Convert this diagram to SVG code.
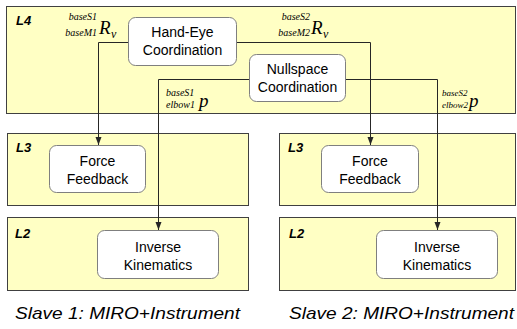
<svg xmlns="http://www.w3.org/2000/svg" width="517" height="329" viewBox="0 0 517 329">
  <style>
    .layer { fill: #ffffc4; stroke: #404040; stroke-width: 1; }
    .node rect { fill: #ffffff; stroke: #7f7f7f; stroke-width: 1; }
    .node text { font-family: "Liberation Sans", Arial, sans-serif; font-size: 14px; fill: #000; text-anchor: middle; }
    .lvl { font-family: "Liberation Sans", Arial, sans-serif; font-size: 13px; font-style: italic; font-weight: bold; fill: #000; }
    .cap { font-family: "Liberation Sans", Arial, sans-serif; font-size: 16.5px; font-style: italic; fill: #000; }
    .sub { font-family: "Liberation Serif", "Times New Roman", serif; font-size: 10px; font-style: italic; fill: #000; }
    .sub2 { font-family: "Liberation Serif", "Times New Roman", serif; font-size: 9px; font-style: italic; fill: #000; }
    .sym { font-family: "Liberation Serif", "Times New Roman", serif; font-size: 19px; font-style: italic; fill: #000; }
    .symv { font-family: "Liberation Serif", "Times New Roman", serif; font-size: 12px; font-style: italic; fill: #000; }
    .wire { fill: none; stroke: #262626; stroke-width: 1; marker-end: url(#tip); }
  </style>
  <defs>
    <marker id="tip" viewBox="0 0 8 8" refX="8" refY="4" markerWidth="8" markerHeight="8" markerUnits="userSpaceOnUse" orient="auto">
      <path d="M0,1 L8,4 L0,7 z" fill="#262626"/>
    </marker>
  </defs>

  <rect width="517" height="329" fill="#ffffff"/>

  <!-- layer bands -->
  <g id="layers">
    <rect class="layer" x="6.5" y="6.5" width="509" height="107"/>
    <rect class="layer" x="7.5" y="133.5" width="241" height="72"/>
    <rect class="layer" x="279.5" y="133.5" width="236" height="72"/>
    <rect class="layer" x="7.5" y="217.5" width="241" height="73"/>
    <rect class="layer" x="279.5" y="217.5" width="236" height="73"/>
    <text class="lvl" x="16" y="25">L4</text>
    <text class="lvl" x="16" y="152">L3</text>
    <text class="lvl" x="288" y="152">L3</text>
    <text class="lvl" x="15" y="238">L2</text>
    <text class="lvl" x="289" y="238">L2</text>
  </g>

  <!-- transform labels -->
  <g id="labels">
    <text class="sub" x="97" y="20" text-anchor="end">baseS1</text>
    <text class="sub" x="97" y="36" text-anchor="end">baseM1</text>
    <text class="sym" x="99" y="34">R</text>
    <text class="symv" x="111" y="38">v</text>

    <text class="sub" x="310" y="20" text-anchor="end">baseS2</text>
    <text class="sub" x="310" y="36" text-anchor="end">baseM2</text>
    <text class="sym" x="311" y="34">R</text>
    <text class="symv" x="323" y="38">v</text>

    <text class="sub" x="166" y="96">baseS1</text>
    <text class="sub" x="166" y="108">elbow1</text>
    <text class="sym" x="199" y="107">p</text>

    <text class="sub2" x="442" y="96">baseS2</text>
    <text class="sub2" x="442" y="108">elbow2</text>
    <text class="sym" x="469" y="107">p</text>
  </g>

  <!-- connectors -->
  <g id="connectors">
    <path class="wire" d="M128,42.5 H98.5 V145"/>
    <path class="wire" d="M237,42.5 H370.5 V145"/>
    <path class="wire" d="M249,79.5 H158.5 V230"/>
    <path class="wire" d="M346,79.5 H437.5 V230"/>
  </g>

  <g id="hand-eye" class="node">
    <rect x="128.5" y="17.5" width="108" height="48" rx="7"/>
    <text x="182.5" y="37">Hand-Eye</text>
    <text x="182.5" y="55">Coordination</text>
  </g>

  <g id="nullspace" class="node">
    <rect x="249.5" y="54.5" width="96" height="47" rx="7"/>
    <text x="297.5" y="74">Nullspace</text>
    <text x="297.5" y="92">Coordination</text>
  </g>

  <g id="force-feedback-1" class="node">
    <rect x="49.5" y="145.5" width="96" height="47" rx="7"/>
    <text x="97.5" y="166">Force</text>
    <text x="97.5" y="184">Feedback</text>
  </g>

  <g id="force-feedback-2" class="node">
    <rect x="321.5" y="145.5" width="97" height="47" rx="7"/>
    <text x="370" y="166">Force</text>
    <text x="370" y="184">Feedback</text>
  </g>

  <g id="inverse-kinematics-1" class="node">
    <rect x="97.5" y="230.5" width="121" height="48" rx="7"/>
    <text x="158" y="252">Inverse</text>
    <text x="158" y="270">Kinematics</text>
  </g>

  <g id="inverse-kinematics-2" class="node">
    <rect x="376.5" y="230.5" width="121" height="48" rx="7"/>
    <text x="437" y="252">Inverse</text>
    <text x="437" y="270">Kinematics</text>
  </g>

  <g id="captions">
    <text class="cap" x="15" y="319" textLength="225" lengthAdjust="spacingAndGlyphs">Slave 1: MIRO+Instrument</text>
    <text class="cap" x="289" y="319" textLength="225" lengthAdjust="spacingAndGlyphs">Slave 2: MIRO+Instrument</text>
  </g>
</svg>
